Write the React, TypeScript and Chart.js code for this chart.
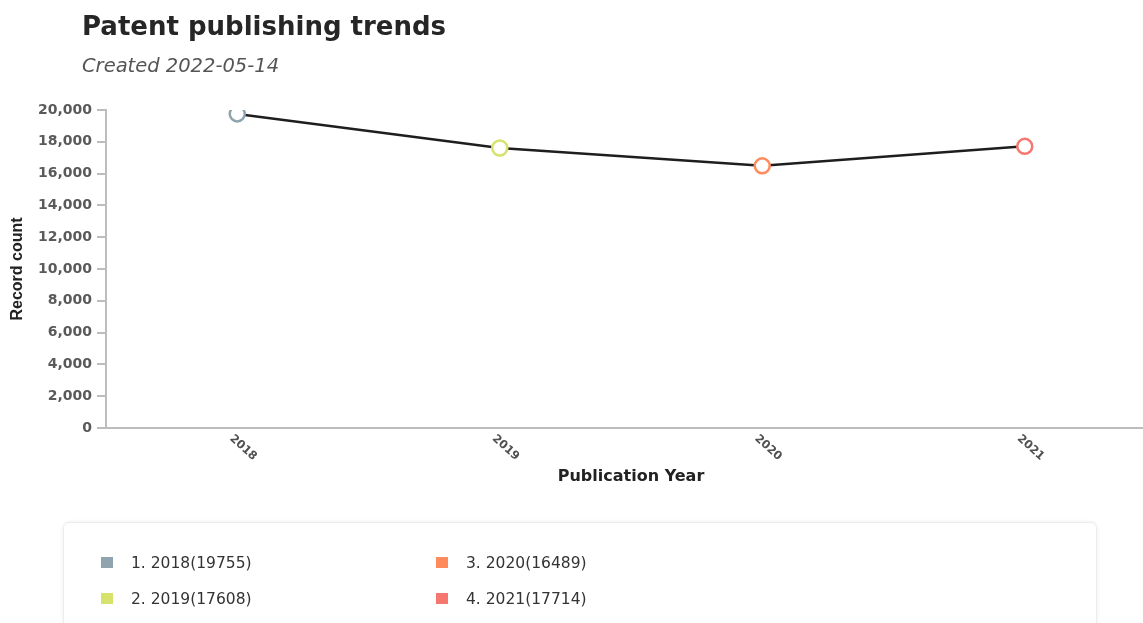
import React, { useEffect, useRef } from 'react';
import { Chart, registerables } from 'chart.js';

Chart.register(...registerables);

// Publication years and the number of patent records published in each
const years = ['2018', '2019', '2020', '2021'];
const recordCounts = [19755, 17608, 16489, 17714];
const yearColors = ['#8fa4ae', '#d6e26b', '#ff8a5c', '#f6776f'];

// Value axis range
const yMin = 0;
const yMax = 20000;
const yStep = 2000;

const chartTitle = 'Patent publishing trends';
const chartSubtitle = 'Created 2022-05-14';
const xAxisTitle = 'Publication Year';
const yAxisTitle = 'Record count';

// Year labels below the x axis, slanted downwards to the right
const slantedYearLabels = {
  id: 'slantedYearLabels',
  afterDraw(chart: any) {
    const scale = chart.scales.x;
    const ctx = chart.ctx;
    ctx.save();
    ctx.font = 'bold 11.5px "DejaVu Sans", sans-serif';
    ctx.fillStyle = '#505050';
    ctx.textAlign = 'left';
    ctx.textBaseline = 'middle';
    years.forEach((label, i) => {
      const x = scale.getPixelForTick(i);
      ctx.save();
      ctx.translate(x - 6, scale.top + 9);
      ctx.rotate((42 * Math.PI) / 180);
      ctx.fillText(label, 0, 0);
      ctx.restore();
    });
    ctx.restore();
  },
};

function TrendChart() {
  const canvasRef = useRef<HTMLCanvasElement | null>(null);

  useEffect(() => {
    if (!canvasRef.current) return;
    const chart = new Chart(canvasRef.current, {
      type: 'line',
      data: {
        labels: years,
        datasets: [
          {
            label: yAxisTitle,
            data: recordCounts,
            borderColor: '#1e1e1e',
            borderWidth: 2.5,
            tension: 0,
            fill: false,
            pointRadius: 7.5,
            pointHoverRadius: 7.5,
            pointBorderWidth: 2.5,
            pointBackgroundColor: '#ffffff',
            pointBorderColor: yearColors,
          },
        ],
      },
      plugins: [slantedYearLabels],
      options: {
        responsive: false,
        animation: false,
        events: [],
        layout: { padding: { top: 110, right: 8, bottom: 135, left: 0 } },
        plugins: {
          legend: { display: false },
          tooltip: { enabled: false },
          title: { display: false },
        },
        scales: {
          x: {
            type: 'category',
            offset: true,
            grid: { display: false },
            border: { display: true, color: '#bdbdbd', width: 2 },
            ticks: { display: false },
            title: {
              display: true,
              text: xAxisTitle,
              color: '#222',
              font: { family: '"DejaVu Sans", sans-serif', size: 16, weight: 'bold' },
              padding: { top: 0, bottom: 2 },
            },
            afterFit(scale: any) {
              scale.height = 60;
            },
          },
          y: {
            min: yMin,
            max: yMax,
            grid: {
              drawOnChartArea: false,
              drawTicks: true,
              tickLength: 9,
              color: '#bdbdbd',
              lineWidth: 2,
            },
            border: { display: true, color: '#bdbdbd', width: 2 },
            ticks: {
              stepSize: yStep,
              padding: 5,
              color: '#5a5a5a',
              font: { family: '"DejaVu Sans", sans-serif', size: 14, weight: 'bold' },
              callback: (v: any) => Number(v).toLocaleString('en-US'),
            },
            title: {
              display: true,
              text: yAxisTitle,
              color: '#222',
              font: { family: '"Liberation Sans", Arial, sans-serif', size: 16, weight: 'bold' },
              padding: { top: 8, bottom: 0 },
            },
            afterFit(scale: any) {
              scale.width = 106;
            },
          },
        },
      },
    } as any);
    return () => chart.destroy();
  }, []);

  return (
    <canvas
      ref={canvasRef}
      width={1166}
      height={623}
      style={{ position: 'absolute', left: 0, top: 0, width: 1166, height: 623 }}
    />
  );
}

export default function App() {
  const legendColumns = [101, 436];
  const legendRows = [563, 599];
  return (
    <div
      style={{
        position: 'fixed',
        left: 0,
        top: 0,
        width: 1143,
        height: 623,
        overflow: 'hidden',
        background: '#ffffff',
        fontFamily: '"DejaVu Sans", sans-serif',
      }}
    >
      <TrendChart />
      <div
        style={{
          position: 'absolute',
          left: 82,
          top: 11,
          fontSize: 26,
          fontWeight: 'bold',
          color: '#262626',
          lineHeight: 'normal',
          whiteSpace: 'nowrap',
        }}
      >
        {chartTitle}
      </div>
      <div
        style={{
          position: 'absolute',
          left: 82,
          top: 54,
          fontSize: 19.5,
          fontStyle: 'italic',
          color: '#555555',
          lineHeight: 'normal',
          whiteSpace: 'nowrap',
        }}
      >
        {chartSubtitle}
      </div>
      <div
        style={{
          position: 'absolute',
          left: 63,
          top: 522,
          width: 1034,
          height: 140,
          border: '1px solid #ececec',
          borderRadius: 6,
          boxShadow: '0 0 4px rgba(0,0,0,0.07)',
          boxSizing: 'border-box',
        }}
      />
      {years.map((year, i) => {
        const col = Math.floor(i / 2);
        const row = i % 2;
        const x = legendColumns[col];
        const y = legendRows[row];
        return (
          <div key={year}>
            <div
              style={{
                position: 'absolute',
                left: x,
                top: y - 6,
                width: 12,
                height: 11,
                background: yearColors[i],
              }}
            />
            <div
              style={{
                position: 'absolute',
                left: x + 30,
                top: y - 10,
                height: 20,
                lineHeight: '20px',
                fontSize: 15.5,
                color: '#333333',
                whiteSpace: 'nowrap',
              }}
            >
              {`${i + 1}. ${year}(${recordCounts[i]})`}
            </div>
          </div>
        );
      })}
    </div>
  );
}
